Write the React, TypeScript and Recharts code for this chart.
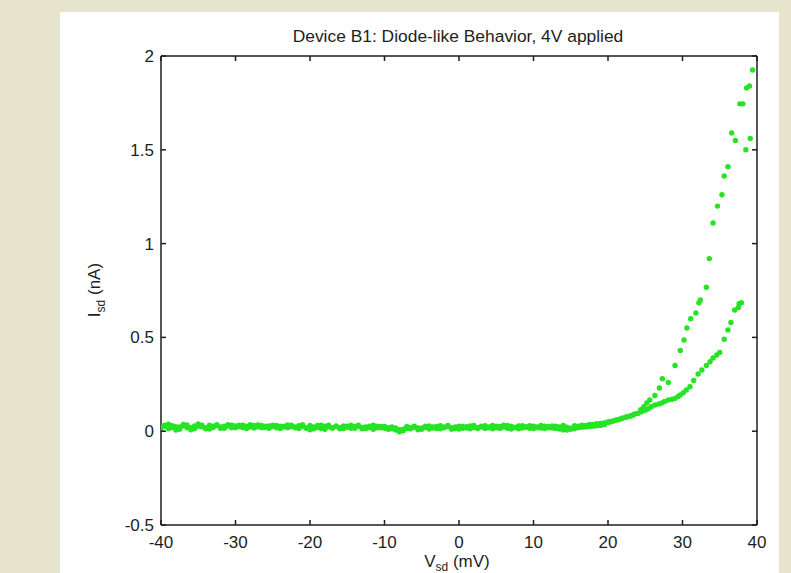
import React from "react";
import { ScatterChart, Scatter, XAxis, YAxis } from "recharts";

// ---------- data ----------
const xTicks = [-40, -30, -20, -10, 0, 10, 20, 30, 40];
const yTicks = [-0.5, 0, 0.5, 1, 1.5, 2];

// flat (off) region, both sweeps measured at the same bias points (mV)
const flatVoltage = [
  -40, -39.5, -39, -38.5, -38, -37.5, -37, -36.5, -36, -35.5,
  -35, -34.5, -34, -33.5, -33, -32.5, -32, -31.5, -31, -30.5,
  -30, -29.5, -29, -28.5, -28, -27.5, -27, -26.5, -26, -25.5,
  -25, -24.5, -24, -23.5, -23, -22.5, -22, -21.5, -21, -20.5,
  -20, -19.5, -19, -18.5, -18, -17.5, -17, -16.5, -16, -15.5,
  -15, -14.5, -14, -13.5, -13, -12.5, -12, -11.5, -11, -10.5,
  -10, -9.5, -9, -8.5, -8, -7.5, -7, -6.5, -6, -5.5,
  -5, -4.5, -4, -3.5, -3, -2.5, -2, -1.5, -1, -0.5,
  0, 0.5, 1, 1.5, 2, 2.5, 3, 3.5, 4, 4.5,
  5, 5.5, 6, 6.5, 7, 7.5, 8, 8.5, 9, 9.5,
  10, 10.5, 11, 11.5, 12, 12.5, 13, 13.5, 14, 14.5,
  15, 15.5, 16, 16.5, 17, 17.5, 18, 18.5, 19, 19.5,
  20,
];

// current (nA), forward sweep
const flatForward = [
  0.008, 0.026, 0.037, 0.02, 0.006, 0.022, 0.036, 0.018, 0.008, 0.028,
  0.038, 0.024, 0.013, 0.032, 0.02, 0.03, 0.016, 0.026, 0.034, 0.018,
  0.028, 0.032, 0.019, 0.026, 0.035, 0.017, 0.024, 0.031, 0.02, 0.028,
  0.032, 0.018, 0.027, 0.022, 0.033, 0.025, 0.018, 0.029, 0.035, 0.016,
  0.008, 0.022, 0.03, 0.014, 0.026, 0.032, 0.018, 0.025, 0.013, 0.028,
  0.021, 0.032, 0.016, 0.026, 0.02, 0.014, 0.027, 0.032, 0.018, 0.025,
  0.016, 0.01, 0.022, 0.006, -0.003, 0.01, 0.025, 0.013, 0.021, 0.008,
  0.017, 0.027, 0.012, 0.023, 0.014, 0.029, 0.019, 0.025, 0.011, 0.022,
  0.027, 0.016, 0.024, 0.013, 0.03, 0.019, 0.026, 0.015, 0.022, 0.031,
  0.018, 0.025, 0.032, 0.016, 0.027, 0.02, 0.013, 0.029, 0.021, 0.016,
  0.026, 0.019, 0.03, 0.014, 0.025, 0.017, 0.027, 0.012, 0.007, 0.021,
  0.01, 0.029, 0.019, 0.032, 0.023, 0.036, 0.027, 0.04, 0.031, 0.044,
  0.046,
];

// current (nA), reverse sweep
const flatReverse = [
  0.021, 0.032, 0.013, 0.029, 0.024, 0.01, 0.028, 0.033, 0.019, 0.014,
  0.026, 0.032, 0.019, 0.012, 0.027, 0.034, 0.022, 0.016, 0.028, 0.032,
  0.019, 0.025, 0.032, 0.014, 0.022, 0.03, 0.033, 0.019, 0.026, 0.016,
  0.025, 0.031, 0.015, 0.027, 0.019, 0.032, 0.022, 0.014, 0.026, 0.019,
  0.03, 0.013, 0.02, 0.032, 0.01, 0.022, 0.016, 0.028, 0.019, 0.014,
  0.027, 0.016, 0.025, 0.032, 0.013, 0.022, 0.019, 0.01, 0.026, 0.018,
  0.025, 0.019, 0.013, 0.017, 0.008, 0.002, 0.015, 0.019, 0.027, 0.017,
  0.01, 0.02, 0.028, 0.017, 0.025, 0.013, 0.022, 0.03, 0.019, 0.014,
  0.012, 0.025, 0.017, 0.028, 0.02, 0.014, 0.022, 0.029, 0.018, 0.013,
  0.026, 0.015, 0.022, 0.03, 0.012, 0.02, 0.028, 0.017, 0.024, 0.029,
  0.014, 0.022, 0.017, 0.026, 0.019, 0.028, 0.015, 0.022, 0.03, 0.006,
  0.016, 0.013, 0.027, 0.021, 0.031, 0.025, 0.036, 0.029, 0.041, 0.035,
  0.049,
];

// rising part, upper branch
const upperVoltage = [
  20.5, 21, 21.5, 22, 22.5, 23, 23.5, 23.9, 24.4, 24.8,
  25.2, 25.6, 26.3, 26.9, 27.3, 28.1, 29.0, 29.7, 30.2, 30.6,
  31.1, 31.8, 32.2, 32.4, 33.2, 33.6, 34.1, 34.7, 35.3, 35.6,
  36.1, 36.6, 37.1, 37.7, 38.1, 38.6, 39.0, 39.4, 39.1, 38.5,
];
const upperCurrent = [
  0.052, 0.058, 0.062, 0.07, 0.075, 0.082, 0.09, 0.095, 0.115, 0.13,
  0.15, 0.166, 0.19, 0.23, 0.28, 0.26, 0.35, 0.43, 0.486, 0.55,
  0.6, 0.63, 0.685, 0.7, 0.767, 0.92, 1.11, 1.2, 1.26, 1.36,
  1.41, 1.59, 1.55, 1.745, 1.745, 1.83, 1.84, 1.925, 1.56, 1.5,
];

// rising part, lower branch
const lowerVoltage = [
  20.2, 20.7, 21.2, 21.8, 22.5, 23.0, 23.4, 24.0, 24.5, 25.0,
  25.4, 25.8, 26.3, 26.8, 27.2, 27.6, 28.1, 28.6, 29.0, 29.4,
  29.7, 30.1, 30.5, 31.0, 31.5, 32.1, 32.6, 33.2, 33.7, 34.1,
  34.6, 35.0, 35.6, 36.1, 36.5, 37.0, 37.5, 37.6, 37.9,
];
const lowerCurrent = [
  0.05, 0.055, 0.06, 0.068, 0.077, 0.08, 0.086, 0.095, 0.104, 0.112,
  0.12, 0.13, 0.14, 0.145, 0.15, 0.158, 0.166, 0.17, 0.175, 0.185,
  0.193, 0.205, 0.22, 0.237, 0.27, 0.305, 0.326, 0.35, 0.37, 0.39,
  0.406, 0.42, 0.49, 0.54, 0.58, 0.646, 0.66, 0.68, 0.685,
];

const toPoints = (vs: number[], is: number[]) => vs.map((v, k) => ({ v, i: is[k] }));
const forwardPts = toPoints(flatVoltage, flatForward);
const reversePts = toPoints(flatVoltage, flatReverse);
const upperPts = toPoints(upperVoltage, upperCurrent);
const lowerPts = toPoints(lowerVoltage, lowerCurrent);

// ---------- style ----------
const FONT = '"Liberation Sans", Arial, Helvetica, sans-serif';
const AXIS = "#1e1e1e";
const TEXT = "#1e1e1e";
const GREEN = "#26e326";
const FS = 17;

const Dot = (p: any) =>
  p.cx == null ? <g /> : <circle cx={p.cx} cy={p.cy} r={2.7} fill={GREEN} />;

const BottomTick = (p: any) => (
  <g>
    <line x1={p.x} x2={p.x} y1={p.y} y2={p.y - 5} stroke={AXIS} strokeWidth={1.5} />
    <text x={p.x} y={p.y + 23} textAnchor="middle" fontSize={FS} fill={TEXT} fontFamily={FONT}>
      {p.payload.value}
    </text>
  </g>
);
const LeftTick = (p: any) => (
  <g>
    <line x1={p.x} x2={p.x + 5} y1={p.y} y2={p.y} stroke={AXIS} strokeWidth={1.5} />
    <text x={p.x - 7} y={p.y + 6} textAnchor="end" fontSize={FS} fill={TEXT} fontFamily={FONT}>
      {p.payload.value}
    </text>
  </g>
);
const TopTick = (p: any) => (
  <line x1={p.x} x2={p.x} y1={p.y} y2={p.y + 5} stroke={AXIS} strokeWidth={1.5} />
);
const RightTick = (p: any) => (
  <line x1={p.x} x2={p.x - 5} y1={p.y} y2={p.y} stroke={AXIS} strokeWidth={1.5} />
);

const TitleLabel = () => (
  <text x={458} y={42} textAnchor="middle" fontSize={17.4} fill={TEXT} fontFamily={FONT}>
    Device B1: Diode-like Behavior, 4V applied
  </text>
);
const XLabel = () => (
  <text x={457} y={567} textAnchor="middle" fontSize={FS} fill={TEXT} fontFamily={FONT}>
    V<tspan dy={4} fontSize={12}>sd</tspan>
    <tspan dy={-4}> (mV)</tspan>
  </text>
);
const YLabel = () => (
  <text
    x={100}
    y={290}
    transform="rotate(-90, 100, 290)"
    textAnchor="middle"
    fontSize={FS}
    fill={TEXT}
    fontFamily={FONT}
  >
    I<tspan dy={5} fontSize={12}>sd</tspan>
    <tspan dy={-5}> (nA)</tspan>
  </text>
);

export default function App() {
  return (
    <div
      style={{
        position: "absolute",
        left: 0,
        top: 0,
        width: 791,
        height: 573,
        background: "#e6e4cc",
        overflow: "hidden",
      }}
    >
      <div
        style={{
          position: "absolute",
          left: 60,
          top: 12,
          width: 719,
          height: 561,
          background: "#ffffff",
        }}
      />
      <div style={{ position: "absolute", left: 0, top: 0 }}>
        <ScatterChart
          width={791}
          height={573}
          margin={{ top: 55, right: 33, bottom: 8, left: 101 }}
        >
          <XAxis
            xAxisId="bottom"
            dataKey="v"
            type="number"
            domain={[-40, 40]}
            ticks={xTicks}
            interval={0}
            allowDataOverflow
            height={40}
            tickSize={0}
            tickMargin={0}
            tickLine={false}
            axisLine={{ stroke: AXIS, strokeWidth: 1.5 }}
            tick={BottomTick}
            label={XLabel}
          />
          <XAxis
            xAxisId="top"
            dataKey="v"
            type="number"
            orientation="top"
            domain={[-40, 40]}
            ticks={xTicks}
            interval={0}
            allowDataOverflow
            height={1}
            tickSize={0}
            tickMargin={0}
            tickLine={false}
            axisLine={{ stroke: AXIS, strokeWidth: 1.5 }}
            tick={TopTick}
            label={TitleLabel}
          />
          <YAxis
            yAxisId="left"
            dataKey="i"
            type="number"
            domain={[-0.5, 2]}
            ticks={yTicks}
            interval={0}
            allowDataOverflow
            width={60}
            tickSize={0}
            tickMargin={0}
            tickLine={false}
            axisLine={{ stroke: AXIS, strokeWidth: 1.5 }}
            tick={LeftTick}
            label={YLabel}
          />
          <YAxis
            yAxisId="right"
            dataKey="i"
            type="number"
            orientation="right"
            domain={[-0.5, 2]}
            ticks={yTicks}
            interval={0}
            allowDataOverflow
            width={1}
            tickSize={0}
            tickMargin={0}
            tickLine={false}
            axisLine={{ stroke: AXIS, strokeWidth: 1.5 }}
            tick={RightTick}
          />
          <Scatter
            data={forwardPts}
            xAxisId="top"
            yAxisId="right"
            shape={() => <g />}
            isAnimationActive={false}
          />
          <Scatter data={forwardPts} xAxisId="bottom" yAxisId="left" shape={Dot} isAnimationActive={false} />
          <Scatter data={reversePts} xAxisId="bottom" yAxisId="left" shape={Dot} isAnimationActive={false} />
          <Scatter data={lowerPts} xAxisId="bottom" yAxisId="left" shape={Dot} isAnimationActive={false} />
          <Scatter data={upperPts} xAxisId="bottom" yAxisId="left" shape={Dot} isAnimationActive={false} />
        </ScatterChart>
      </div>
    </div>
  );
}
